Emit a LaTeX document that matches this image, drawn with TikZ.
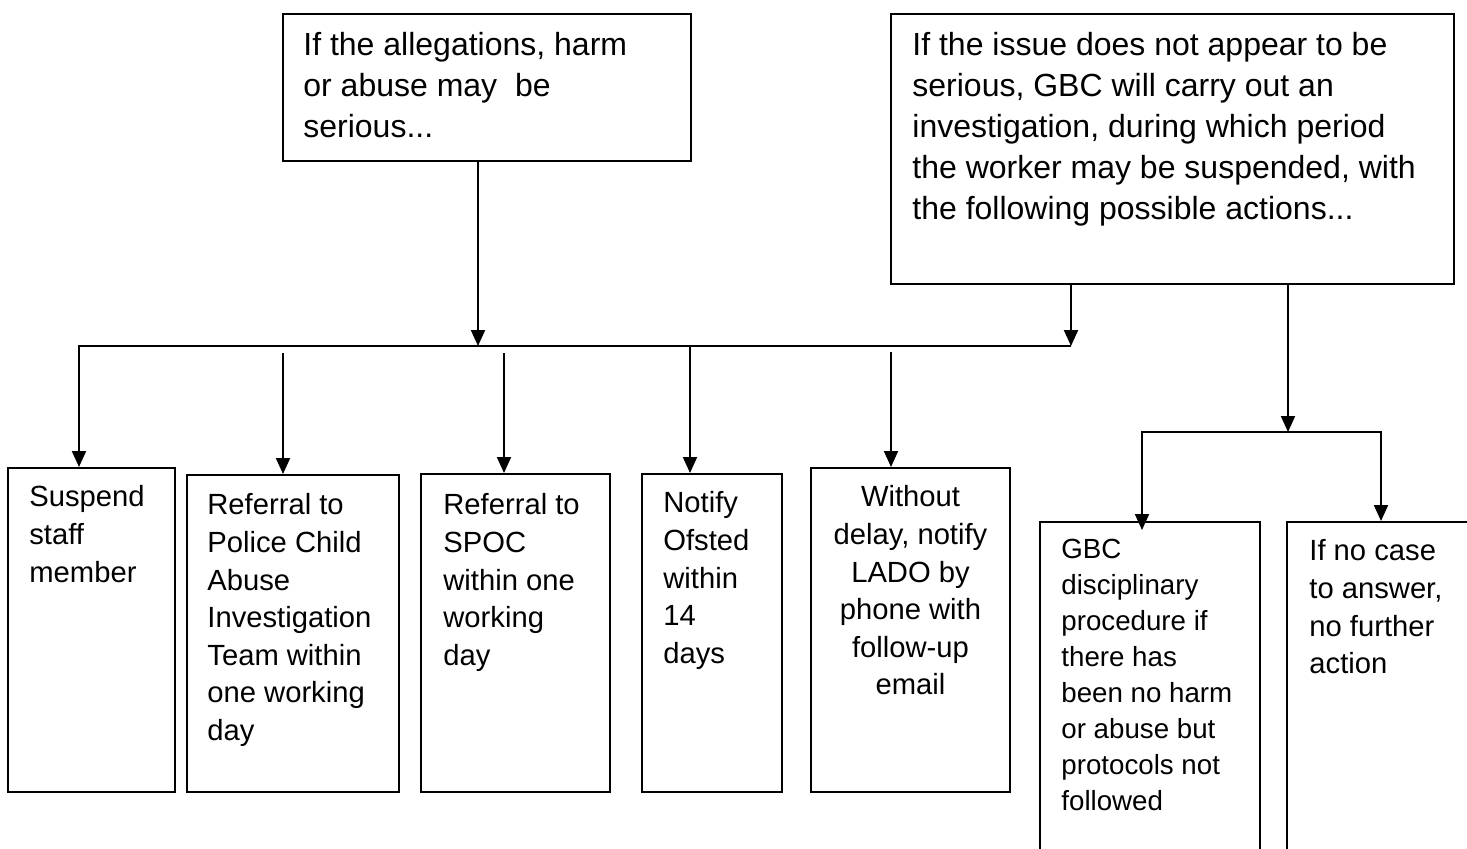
\documentclass[tikz,border=0pt]{standalone}
\usepackage{fontspec}
\setmainfont{Liberation Sans}
\usetikzlibrary{arrows.meta,fit}
\tikzset{
  box/.style={draw, line width=1pt, inner sep=0pt},
  txt/.style={inner sep=0pt, anchor=north west, align=left},
  arr/.style={line width=1pt, -{Triangle[length=8pt,width=7pt]}},
  arrtwo/.style={line width=1pt, {Triangle[length=8pt,width=7pt]}-{Triangle[length=8pt,width=7pt]}},
  ftop/.style={font=\fontsize{16pt}{20.5pt}\selectfont},
  fmid/.style={font=\fontsize{14.6pt}{18.8pt}\selectfont},
  fsml/.style={font=\fontsize{13.85pt}{18pt}\selectfont},
}
\begin{document}
\begin{tikzpicture}[x=0.5pt,y=-0.5pt]
\fill[white] (0,0) rectangle (1467,848);
\clip (0,0) rectangle (1467,848);
% box corners
\coordinate (tla) at (283,14);   \coordinate (tlb) at (691,161);
\coordinate (tra) at (891,14);   \coordinate (trb) at (1454,284);
\coordinate (b1a) at (8,468);    \coordinate (b1b) at (175,792);
\coordinate (b2a) at (187,475);  \coordinate (b2b) at (399,792);
\coordinate (b3a) at (421,474);  \coordinate (b3b) at (610,792);
\coordinate (b4a) at (642,474);  \coordinate (b4b) at (782,792);
\coordinate (b5a) at (811,468);  \coordinate (b5b) at (1010,792);
\coordinate (b6a) at (1040,522); \coordinate (b6b) at (1260,880);
\coordinate (b7a) at (1287,522); \coordinate (b7b) at (1500,880);
% boxes
\node[box, fit=(tla)(tlb)] (tl) {};
\node[box, fit=(tra)(trb)] (tr) {};
\node[box, fit=(b1a)(b1b)] (b1) {};
\node[box, fit=(b2a)(b2b)] (b2) {};
\node[box, fit=(b3a)(b3b)] (b3) {};
\node[box, fit=(b4a)(b4b)] (b4) {};
\node[box, fit=(b5a)(b5b)] (b5) {};
\node[box, fit=(b6a)(b6b)] (b6) {};
\node[box, fit=(b7a)(b7b)] (b7) {};
% texts
\node[txt, ftop] (tlt) at (303,29) {\rule{0pt}{13pt}If the allegations, harm\\or abuse may\ \ be\\serious...};
\node[txt, ftop] (trt) at (912,29) {\rule{0pt}{13pt}If the issue does not appear to be\\serious, GBC will carry out an\\investigation, during which period\\the worker may be suspended, with\\the following possible actions...};
\node[txt, fmid] (b1t) at (29,482.5) {\rule{0pt}{12pt}Suspend\\staff\\member};
\node[txt, fmid] (b2t) at (207,490.5) {\rule{0pt}{12pt}Referral to\\Police Child\\Abuse\\Investigation\\Team within\\one working\\day};
\node[txt, fmid] (b3t) at (443,490.5) {\rule{0pt}{12pt}Referral to\\SPOC\\within one\\working\\day};
\node[txt, fmid] (b4t) at (663,488.5) {\rule{0pt}{12pt}Notify\\Ofsted\\within\\14\\days};
\node[txt, fmid, anchor=north, align=center] (b5t) at (910.5,482.5) {\rule{0pt}{12pt}Without\\delay, notify\\LADO by\\phone with\\follow-up\\email};
\node[txt, fsml] (b6t) at (1061,535) {\rule{0pt}{11.5pt}GBC\\disciplinary\\procedure if\\there has\\been no harm\\or abuse but\\protocols not\\followed};
\node[txt, fmid] (b7t) at (1309,536.5) {\rule{0pt}{12pt}If no case\\to answer,\\no further\\action};
% junction coordinates
\coordinate (j1) at (478,346);
\coordinate (hr) at (1071,346);
\coordinate (hl) at (79,346);
\coordinate (s2) at (283,353);
\coordinate (s3) at (504,353);
\coordinate (s4) at (690,346);
\coordinate (s5) at (891,352);
\coordinate (j3) at (1288,432);
\coordinate (bl) at (1142,432);
\coordinate (br) at (1381,432);
% connectors
\draw[arr] (j1 |- tl.south) -- (j1);
\draw[arr] (hr |- tr.south) -- (hr);
\draw[arr] (hr) -- (hl) -- (hl |- b1.north);
\draw[arr] (s2) -- (s2 |- b2.north);
\draw[arr] (s3) -- (s3 |- b3.north);
\draw[arr] (s4) -- (s4 |- b4.north);
\draw[arr] (s5) -- (s5 |- b5.north);
\draw[arr] (j3 |- tr.south) -- (j3);
\draw[arrtwo] ([yshift=-4.5pt]bl |- b6.north) -- (bl) -- (br) -- (br |- b7.north);
\end{tikzpicture}
\end{document}
